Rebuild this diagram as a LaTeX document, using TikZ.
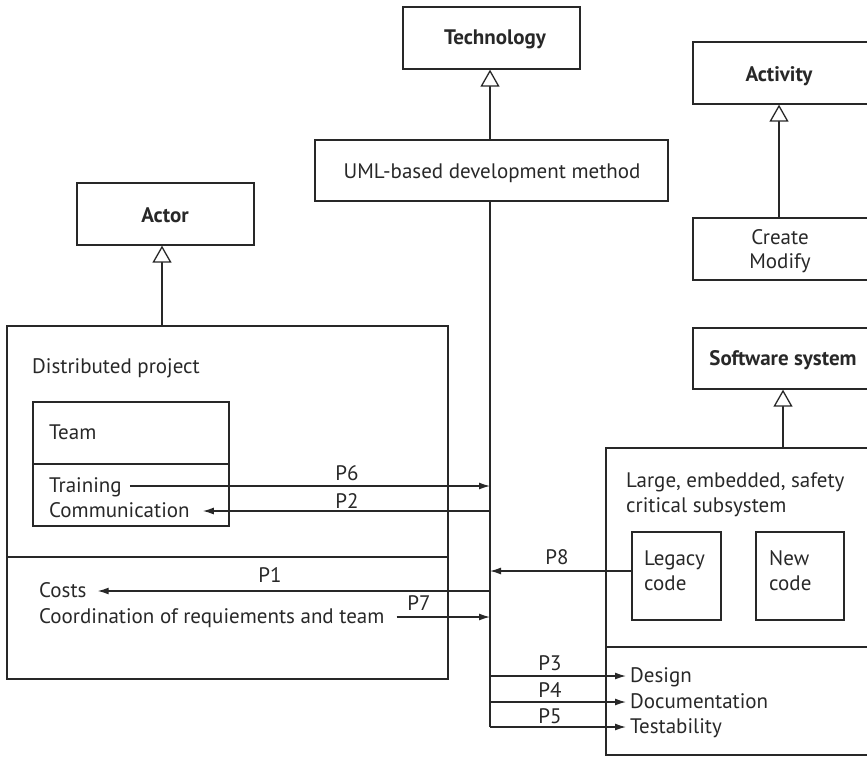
\documentclass[tikz,border=0pt]{standalone}
\usepackage{fontspec}
\setmainfont{PT Sans}
\usetikzlibrary{arrows.meta,fit}
\definecolor{ink}{RGB}{40,40,40}
\begin{document}
\begin{tikzpicture}[x=1pt,y=-1pt,
  every node/.style={font=\fontsize{21}{24.5}\selectfont, text=ink},
  box/.style={draw=ink, line width=1.3pt, inner sep=0pt, rectangle},
  ln/.style={draw=ink, line width=1.3pt},
  gen/.style={draw=ink, line width=1.3pt, -{Triangle[open,length=17pt,width=19pt,fill=white]}},
  arr/.style={draw=ink, line width=1.3pt, -{Latex[length=11pt,width=7pt]}},
  txt/.style={anchor=base west, inner sep=0pt, text height=12pt, text depth=0pt},
  mtxt/.style={anchor=base west, inner sep=0pt, align=left},
  lab/.style={anchor=base, inner sep=0pt},
  ttl/.style={anchor=base, inner sep=0pt, font=\fontsize{21}{24}\selectfont\bfseries}]
\useasboundingbox (0,0) rectangle (867,758);
\clip (0,0) rectangle (867,758);

% boxes
\node[box, fit={(403,7)(580,69)}] (tech) {};
\node[box, fit={(315,140)(668,201)}] (uml) {};
\node[box, fit={(77,183)(254,245)}] (actor) {};
\node[box, fit={(693,42)(880,104)}] (activity) {};
\node[box, fit={(693,218)(880,280)}] (create) {};
\node[box, fit={(693,328)(880,389)}] (soft) {};
\node[box, fit={(606,448)(890,755)}] (large) {};
\node[box, fit={(7,326)(448,679)}] (dist) {};
\node[box, fit={(33,402)(229,526)}] (team) {};
\node[box, fit={(632,532)(721,620)}] (legacy) {};
\node[box, fit={(756,532)(844,620)}] (newc) {};

% dividers
\draw[ln] (dist.west |- 0,557) -- (dist.east |- 0,557);
\draw[ln] (team.west |- 0,464) -- (team.east |- 0,464);
\draw[ln] (large.west |- 0,647) -- (large.east |- 0,647);

% titles
\node[ttl] (techt) at (495,44) {Technology};
\node[ttl] (actort) at (165,222) {Actor};
\node[ttl] (activityt) at (779,81) {Activity};
\node[ttl] (softt) at (783,365) {Software system};
\node[lab] (umlt) at (492,178) {UML-based development method};
\node[anchor=center, inner sep=0pt, align=center] (createt) at (780,251) {Create\\Modify};

% texts
\node[txt] (distt) at (32,373) {Distributed project};
\node[txt] (teamt) at (49,439) {Team};
\node[txt] (train) at (49,492) {Training};
\node[txt] (comm) at (49,517) {Communication};
\node[txt] (costs) at (39,597) {Costs};
\node[txt] (coord) at (39,623) {Coordination of requiements and team};
\node[mtxt] (larget) at (626,512) {Large, embedded, safety\\critical subsystem};
\node[mtxt] (legt) at (644,590) {Legacy\\code};
\node[mtxt] (newt) at (769,590) {New\\code};
\node[txt] (design) at (630,682) {Design};
\node[txt] (doc) at (630,708) {Documentation};
\node[txt] (test) at (630,733) {Testability};

% spine
\coordinate (sp) at (490,201);
\coordinate (spb) at (490,727);
\coordinate (ax) at (162,0);
\coordinate (acx) at (779,0);
\coordinate (sx) at (783,0);
\draw[ln] (sp |- uml.south) -- (spb);

% generalizations
\draw[gen] (sp |- uml.north) -- (sp |- tech.south);
\draw[gen] (ax |- dist.north) -- (ax |- actor.south);
\draw[gen] (acx |- create.north) -- (acx |- activity.south);
\draw[gen] (sx |- large.north) -- (sx |- soft.south);

% associations
\draw[arr] ([xshift=8pt]train.east) -- (train.east -| sp);
\draw[arr] (comm.east -| sp) -- ([xshift=13pt]comm.east);
\draw[arr] (costs.east -| sp) -- ([xshift=11pt]costs.east);
\draw[arr] ([xshift=12pt]coord.east) -- (coord.east -| sp);
\draw[arr] ([yshift=5pt]legacy.west) -- ([yshift=5pt]legacy.west -| sp);
\draw[arr] (design.west -| sp) -- ([xshift=-4pt]design.west);
\draw[arr] (doc.west -| sp) -- ([xshift=-4pt]doc.west);
\draw[arr] (test.west -| sp) -- ([xshift=-4pt]test.west);

% labels
\node[lab] (p6) at (347,480) {P6};
\node[lab] (p2) at (347,508) {P2};
\node[lab] (p1) at (270,582) {P1};
\node[lab] (p7) at (419,610) {P7};
\node[lab] (p8) at (557,564) {P8};
\node[lab] (p3) at (550,670) {P3};
\node[lab] (p4) at (550,697) {P4};
\node[lab] (p5) at (550,723) {P5};
\end{tikzpicture}
\end{document}
